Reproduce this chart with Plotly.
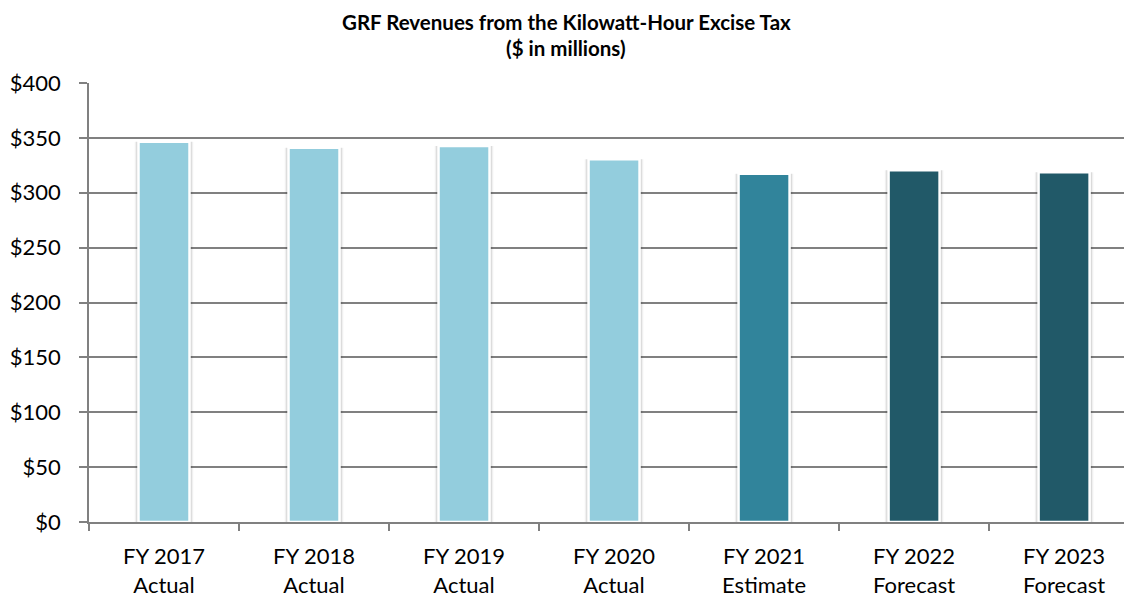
import plotly.graph_objects as go

# Data
years = ['FY 2017', 'FY 2018', 'FY 2019', 'FY 2020', 'FY 2021', 'FY 2022', 'FY 2023']
stages = ['Actual', 'Actual', 'Actual', 'Actual', 'Estimate', 'Forecast', 'Forecast']
revenues = [346.5, 341.1, 342.6, 330.5, 317.4, 320.5, 318.7]
bar_colors = ['#93CDDD', '#93CDDD', '#93CDDD', '#93CDDD', '#31849B', '#215968', '#215968']
y_ticks = [0, 50, 100, 150, 200, 250, 300, 350, 400]

labels = [f'{y}<br>{s}' for y, s in zip(years, stages)]
font_family = 'Lato, Carlito, Calibri, sans-serif'

fig = go.Figure()

# soft shadow behind each bar (two faint layers)
for w, a in [(0.39, 0.06), (0.372, 0.09)]:
    fig.add_trace(go.Bar(
        x=labels, y=revenues, width=w,
        marker=dict(color=f'rgba(0,0,0,{a})', line=dict(width=0)),
        hoverinfo='skip', showlegend=False,
    ))

# the bars themselves, with a white edge
fig.add_trace(go.Bar(
    x=labels, y=revenues, width=0.34,
    marker=dict(color=bar_colors, line=dict(color='white', width=2.5)),
    showlegend=False,
))

# page body adds ~8px offset, margins compensate for it
m_l, m_t, m_b = 81, 75, 86
plot_h = 600 - m_t - m_b

fig.update_layout(
    width=1132, height=600,
    barmode='overlay',
    plot_bgcolor='white', paper_bgcolor='white',
    margin=dict(l=m_l, r=0, t=m_t, b=m_b),
    font=dict(family=font_family, size=22, color='#000000'),
)

# two-line bold title
title_lines = ['GRF Revenues from the Kilowatt-Hour Excise Tax', '($ in millions)']
title_y = [13.5, 40]
for line, ty in zip(title_lines, title_y):
    fig.add_annotation(
        text=f'<b>{line}</b>', xref='paper', yref='paper',
        x=(558 - m_l) / (1132 - m_l), y=1 + (m_t - ty) / plot_h,
        xanchor='center', yanchor='middle', showarrow=False, borderpad=0,
        font=dict(family=font_family, size=20.5, color='#000000'),
    )

fig.update_xaxes(
    range=[-0.5, 6.506], automargin=False,
    showline=True, linecolor='#808080', linewidth=1.5,
    ticks='outside', ticklen=7, tickcolor='#808080', tickwidth=1.5,
    tickson='boundaries', showgrid=False,
    ticklabelstandoff=14,
)

fig.update_yaxes(
    range=[0, 400], tickvals=y_ticks, automargin=False,
    ticktext=[f'${v}' for v in y_ticks],
    showline=True, linecolor='#808080', linewidth=1.5,
    ticks='outside', ticklen=8, tickcolor='#808080', tickwidth=1.5,
    showgrid=True, gridcolor='#808080', gridwidth=1.5,
    zeroline=False, ticklabelstandoff=14,
)

fig.write_html('out.html')
